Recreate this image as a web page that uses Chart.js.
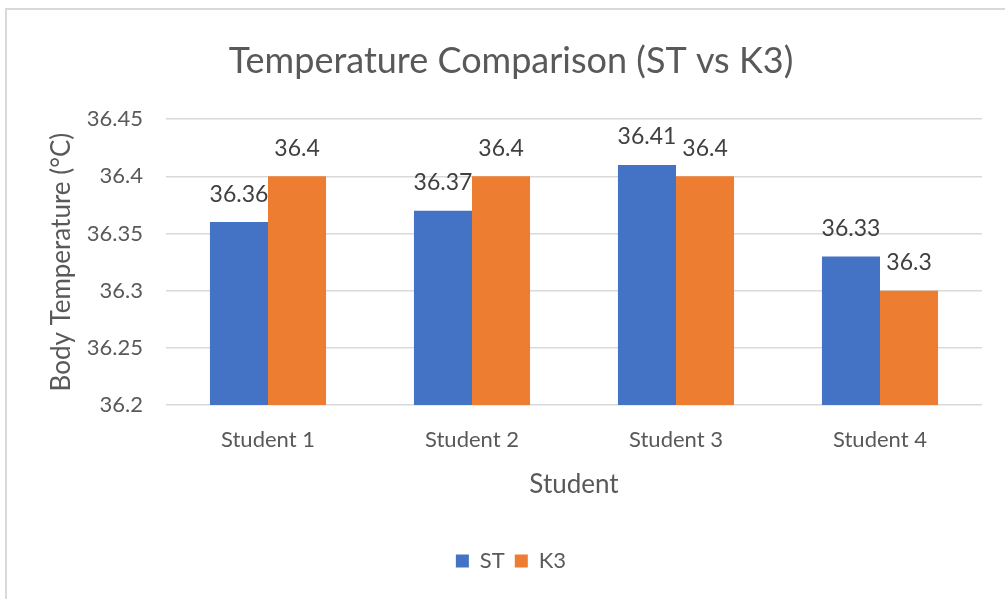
<!DOCTYPE html>
<html>
<head>
<meta charset="utf-8">
<script src="https://cdn.jsdelivr.net/npm/chart.js@4.4.1/dist/chart.umd.min.js"></script>
<style>
   body{margin:0;background:#fff;}
   #wrap{position:relative;width:1005px;height:599px;}
   #frame{position:absolute;left:5px;top:8px;right:0;bottom:0;
      border-top:2px solid #d9d9d9;border-left:2px solid #d9d9d9;pointer-events:none;}
   canvas{position:absolute;left:0;top:0;}
</style>
</head>
<body>
<div id="wrap">
   <canvas id="chart" width="1005" height="599"></canvas>
   <div id="frame"></div>
</div>
<script>

let categories = ["Student 1","Student 2","Student 3","Student 4"];

let stValues = [36.36,36.37,36.41,36.33];

let k3Values = [36.4,36.4,36.4,36.3];

let yTicks = [36.2,36.25,36.3,36.35,36.4,36.45];

let textColor = "#595959";
let fontName = "Lato, 'Open Sans', sans-serif";

/* label di atas batang */
let barLabels = {

   id:"barLabels",

   afterDatasetsDraw:function(chart){

      let ctx = chart.ctx;

      ctx.save();
      ctx.font = "23px " + fontName;
      ctx.fillStyle = "#404040";
      ctx.textAlign = "center";
      ctx.textBaseline = "middle";

      chart.data.datasets.forEach(function(ds,i){

         let meta = chart.getDatasetMeta(i);

         meta.data.forEach(function(bar,j){

            ctx.fillText(String(ds.data[j]), bar.x, bar.y - 28);

         });

      });

      ctx.restore();

   }

};

let ctx = document.getElementById("chart").getContext("2d");

new Chart(ctx, {

   type:"bar",

   data:{

      labels:categories,

      datasets:[
         {
            label:"ST",
            data:stValues,
            backgroundColor:"#4472C4"
         },
         {
            label:"K3",
            data:k3Values,
            backgroundColor:"#ED7D31"
         }
      ]

   },

   options:{

      responsive:false,
      animation:false,
      categoryPercentage:0.569,
      barPercentage:1.0,

      layout:{
         padding:{left:40,right:23,top:0,bottom:17}
      },

      plugins:{

         title:{
            display:true,
            text:"Temperature Comparison (ST vs K3)",
            color:textColor,
            font:{family:fontName,size:36,weight:"normal"},
            padding:{top:40,bottom:36}
         },

         legend:{
            position:"bottom",
            labels:{
               color:textColor,
               font:{family:fontName,size:22},
               boxWidth:13,
               boxHeight:13,
               padding:10
            }
         },

         tooltip:{enabled:false}

      },

      scales:{

         x:{
            grid:{display:false},
            border:{display:false},
            ticks:{
               color:textColor,
               font:{family:fontName,size:22},
               padding:14
            },
            title:{
               display:true,
               text:"Student",
               color:textColor,
               font:{family:fontName,size:26},
               padding:{top:4,bottom:40}
            },
            afterFit:function(scale){
               scale.height = 135;
            }
         },

         y:{
            min:36.2,
            max:36.45,
            afterBuildTicks:function(scale){
               scale.ticks = yTicks.map(v=>({value:v}));
            },
            grid:{
               color:"#d9d9d9",
               lineWidth:1.5,
               drawTicks:false
            },
            border:{display:false},
            ticks:{
               color:textColor,
               font:{family:fontName,size:22},
               padding:23,
               callback:function(v){
                  return String(Math.round(v*100)/100);
               }
            },
            title:{
               display:true,
               text:"Body Temperature (°C)",
               color:textColor,
               font:{family:fontName,size:26},
               padding:{top:6,bottom:0}
            },
            afterFit:function(scale){
               scale.width = 126;
            }
         }

      }

   },

   plugins:[barLabels]

});

</script>
</body>
</html>
